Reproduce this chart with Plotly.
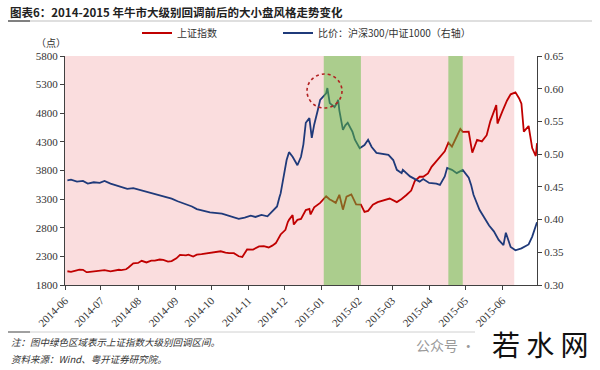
import plotly.graph_objects as go

# ---------------- data ----------------
sh_dates = ["2014-06-03","2014-06-06","2014-06-10","2014-06-13","2014-06-16","2014-06-19","2014-06-20","2014-06-24","2014-06-27","2014-06-30",
            "2014-07-04","2014-07-09","2014-07-11","2014-07-16","2014-07-18","2014-07-22","2014-07-24","2014-07-25","2014-07-28","2014-07-30",
            "2014-08-01","2014-08-04","2014-08-08","2014-08-12","2014-08-15","2014-08-19","2014-08-22","2014-08-26","2014-08-29",
            "2014-09-02","2014-09-05","2014-09-10","2014-09-12","2014-09-16","2014-09-19","2014-09-23","2014-09-26","2014-09-30",
            "2014-10-09","2014-10-13","2014-10-16","2014-10-20","2014-10-24","2014-10-27","2014-10-30","2014-10-31",
            "2014-11-05","2014-11-10","2014-11-14","2014-11-18","2014-11-21","2014-11-24","2014-11-28",
            "2014-12-02","2014-12-04","2014-12-05","2014-12-08","2014-12-09","2014-12-12","2014-12-15","2014-12-19","2014-12-22","2014-12-23","2014-12-26","2014-12-31",
            "2015-01-05","2015-01-08","2015-01-09","2015-01-13","2015-01-16","2015-01-19","2015-01-22","2015-01-26","2015-01-30",
            "2015-02-03","2015-02-06","2015-02-09","2015-02-13","2015-02-17","2015-02-27",
            "2015-03-05","2015-03-09","2015-03-13","2015-03-17","2015-03-20","2015-03-24","2015-03-27","2015-03-31",
            "2015-04-03","2015-04-08","2015-04-10","2015-04-14","2015-04-17","2015-04-20","2015-04-24","2015-04-27","2015-04-29",
            "2015-05-04","2015-05-06","2015-05-07","2015-05-11","2015-05-15","2015-05-19","2015-05-22","2015-05-27","2015-05-28",
            "2015-06-01","2015-06-05","2015-06-08","2015-06-12","2015-06-15","2015-06-17","2015-06-19","2015-06-23","2015-06-26","2015-06-29","2015-06-30"]
sh_values = [2040,2029,2052,2070,2066,2024,2026,2034,2036,2048,
             2059,2039,2047,2066,2059,2075,2105,2127,2178,2183,
             2186,2223,2194,2227,2226,2245,2240,2209,2217,
             2266,2326,2318,2331,2296,2329,2339,2347,2364,
             2389,2366,2356,2356,2302,2290,2373,2420,
             2419,2473,2478,2456,2487,2532,2683,
             2763,2899,2938,3020,2856,2938,2953,3108,3128,3032,3157,3235,
             3351,3294,3285,3235,3376,3116,3344,3383,3210,
             3204,3076,3095,3203,3247,3310,
             3248,3302,3373,3449,3617,3691,3691,3748,
             3864,3995,4035,4135,4287,4217,4394,4527,4476,
             4480,4229,4112,4334,4308,4417,4658,4941,4620,
             4829,5023,5131,5166,5062,4967,4478,4577,4192,4053,4277]

ratio_dates = ["2014-06-03","2014-06-06","2014-06-11","2014-06-16","2014-06-20","2014-06-25","2014-06-30",
               "2014-07-04","2014-07-09","2014-07-14","2014-07-18","2014-07-23","2014-07-28",
               "2014-08-01","2014-08-06","2014-08-11","2014-08-15","2014-08-20","2014-08-25","2014-08-29",
               "2014-09-03","2014-09-09","2014-09-15","2014-09-19","2014-09-25","2014-09-30",
               "2014-10-10","2014-10-15","2014-10-20","2014-10-24","2014-10-29",
               "2014-11-03","2014-11-07","2014-11-12","2014-11-17","2014-11-21","2014-11-25","2014-11-27","2014-11-28",
               "2014-12-03","2014-12-05","2014-12-08","2014-12-10","2014-12-12","2014-12-15","2014-12-17","2014-12-19","2014-12-22","2014-12-24","2014-12-26","2014-12-29","2014-12-31",
               "2015-01-05","2015-01-06","2015-01-08","2015-01-12","2015-01-14","2015-01-15","2015-01-16","2015-01-19","2015-01-21","2015-01-23","2015-01-27","2015-01-29",
               "2015-02-02","2015-02-06","2015-02-09","2015-02-12","2015-02-16","2015-02-26",
               "2015-03-02","2015-03-05","2015-03-09","2015-03-10","2015-03-16","2015-03-20","2015-03-24","2015-03-27",
               "2015-04-01","2015-04-07","2015-04-10","2015-04-14","2015-04-16","2015-04-20","2015-04-24","2015-04-29",
               "2015-05-04","2015-05-06","2015-05-08","2015-05-13","2015-05-18","2015-05-21","2015-05-25","2015-05-29",
               "2015-06-02","2015-06-04","2015-06-08","2015-06-12","2015-06-17","2015-06-23","2015-06-26","2015-06-30"]
ratio_values = [0.460,0.461,0.458,0.459,0.455,0.457,0.456,
                0.459,0.455,0.452,0.450,0.447,0.448,
                0.446,0.443,0.440,0.438,0.436,0.433,0.432,
                0.428,0.424,0.420,0.416,0.413,0.411,
                0.409,0.406,0.404,0.401,0.403,
                0.406,0.404,0.407,0.405,0.412,0.420,0.434,0.440,
                0.491,0.503,0.496,0.490,0.483,0.496,0.515,0.548,0.555,0.525,0.545,0.567,0.583,
                0.593,0.601,0.578,0.572,0.578,0.583,0.567,0.537,0.544,0.548,0.534,0.522,
                0.509,0.514,0.522,0.511,0.502,0.499,
                0.491,0.476,0.471,0.476,0.466,0.462,0.458,0.462,
                0.456,0.455,0.453,0.466,0.479,0.476,0.471,0.476,
                0.464,0.453,0.438,0.415,0.400,0.391,0.382,0.369,
                0.361,0.380,0.358,0.353,0.356,0.362,0.374,0.396]

left_ticks = [1800, 2300, 2800, 3300, 3800, 4300, 4800, 5300, 5800]
right_ticks = [0.30, 0.35, 0.40, 0.45, 0.50, 0.55, 0.60, 0.65]

bull_period = ("2014-06-01", "2015-06-11")
pullbacks = [("2015-01-03", "2015-02-03"), ("2015-04-17", "2015-04-29")]
x_range = ["2014-06-01", "2015-06-30"]

# ---------------- layout helpers ----------------
W, H = 600, 370
L, R, T, B = 65, 537, 56, 285
def px(x):
    return (x - L) / (R - L)
def py(y):
    return (B - y) / (B - T)

NUM_FONT = "Liberation Serif"
CJK_FONT = "Noto Sans CJK SC"
RED = "#C00000"
BLUE = "#1F3A7A"
AX = "#404040"

fig = go.Figure()
fig.add_trace(go.Scatter(x=sh_dates, y=sh_values, mode="lines", name="上证指数",
                         line=dict(color=RED, width=1.8), legend="legend"))
fig.add_trace(go.Scatter(x=ratio_dates, y=ratio_values, mode="lines", name="比价：沪深300/中证1000（右轴）",
                         line=dict(color=BLUE, width=1.8), yaxis="y2", legend="legend2"))

shapes = []
shapes.append(dict(type="rect", xref="x", yref="paper", x0=bull_period[0], x1=bull_period[1], y0=0, y1=1,
                   fillcolor="#FADDDE", line=dict(width=0), layer="below"))
for a, b in pullbacks:
    shapes.append(dict(type="rect", xref="x", yref="paper", x0=a, x1=b, y0=0, y1=1,
                       fillcolor="rgba(92,190,60,0.5)", line=dict(width=0), layer="above"))
# dotted circle around the ratio peak
shapes.append(dict(type="circle", xref="paper", yref="paper", x0=px(307), x1=px(342), y0=py(108), y1=py(74),
                   line=dict(color="#B22222", width=1.6, dash="dot"), layer="above"))
# header rule and footer rule
shapes.append(dict(type="line", xref="paper", yref="paper", x0=px(8), x1=px(592), y0=py(21), y1=py(21),
                   line=dict(color="#BFBFBF", width=1)))
shapes.append(dict(type="line", xref="paper", yref="paper", x0=px(8), x1=px(30), y0=py(21), y1=py(21),
                   line=dict(color="#808080", width=2)))
shapes.append(dict(type="line", xref="paper", yref="paper", x0=px(8), x1=px(475), y0=py(332), y1=py(332),
                   line=dict(color="#D0D0D0", width=1)))
shapes.append(dict(type="line", xref="paper", yref="paper", x0=px(8), x1=px(30), y0=py(332), y1=py(332),
                   line=dict(color="#A0A0A0", width=2)))

ann = []
ann.append(dict(text="<b>图表6：2014-2015 年牛市大级别回调前后的大小盘风格走势变化</b>", x=px(8), y=py(12),
                xref="paper", yref="paper", xanchor="left", yanchor="middle", showarrow=False,
                font=dict(family=CJK_FONT, size=11.5, color="#222222")))
ann.append(dict(text="（点）", x=px(34), y=py(42), xref="paper", yref="paper", xanchor="left", yanchor="middle",
                showarrow=False, font=dict(family=CJK_FONT, size=10, color="#333333")))
ann.append(dict(text="注：图中绿色区域表示上证指数大级别回调区间。", x=px(9), y=py(342), xref="paper", yref="paper",
                xanchor="left", yanchor="middle", showarrow=False,
                font=dict(family=CJK_FONT, size=9.5, color="#333333", style="italic")))
ann.append(dict(text="资料来源：Wind、粤开证券研究院。", x=px(9), y=py(359), xref="paper", yref="paper",
                xanchor="left", yanchor="middle", showarrow=False,
                font=dict(family=CJK_FONT, size=9.5, color="#333333", style="italic")))
ann.append(dict(text="公众号 ·", x=px(414), y=py(345), xref="paper", yref="paper", xanchor="left", yanchor="middle",
                showarrow=False, font=dict(family=CJK_FONT, size=14, color="#9A9A9A")))
ann.append(dict(text="若 水 网", x=px(591), y=py(344), xref="paper", yref="paper", xanchor="right", yanchor="middle",
                showarrow=False, font=dict(family=CJK_FONT, size=28, color="#111111")))

LEG_FONT = dict(family=CJK_FONT, size=10, color="#333333")
fig.update_layout(
    width=W, height=H,
    margin=dict(l=L, r=W - R, t=T, b=H - B, autoexpand=False),
    paper_bgcolor="white", plot_bgcolor="white",
    showlegend=True,
    legend=dict(orientation="h", x=137 / W, y=1 - 33 / H, xref="container", yref="container",
                xanchor="left", yanchor="middle", font=LEG_FONT, bgcolor="rgba(0,0,0,0)", itemwidth=30),
    legend2=dict(orientation="h", x=278 / W, y=1 - 33 / H, xref="container", yref="container",
                 xanchor="left", yanchor="middle", font=LEG_FONT, bgcolor="rgba(0,0,0,0)", itemwidth=30),
    xaxis=dict(type="date", range=x_range, tickformat="%Y-%m", dtick="M1", tick0="2014-06-01",
               tickangle=-45, showgrid=False, zeroline=False, showline=True, linecolor=AX, linewidth=1,
               ticks="outside", ticklen=4, tickcolor=AX, automargin=False,
               tickfont=dict(family=NUM_FONT, size=11, color="#333333")),
    yaxis=dict(range=[1800, 5800], tickvals=left_ticks, showgrid=False, zeroline=False, automargin=False,
               showline=True, linecolor=AX, linewidth=1, ticks="outside", ticklen=4, tickcolor=AX,
               tickfont=dict(family=NUM_FONT, size=11, color="#333333")),
    yaxis2=dict(range=[0.30, 0.65], tickvals=right_ticks, tickformat=".2f", overlaying="y", side="right",
                showgrid=False, zeroline=False, showline=True, linecolor=AX, linewidth=1, automargin=False,
                ticks="outside", ticklen=4, tickcolor=AX,
                tickfont=dict(family=NUM_FONT, size=11, color="#333333")),
    shapes=shapes, annotations=ann,
)

fig.write_html("out.html", config={"displayModeBar": False},
               post_script="document.body.style.margin='0px';document.body.style.overflow='hidden';")
